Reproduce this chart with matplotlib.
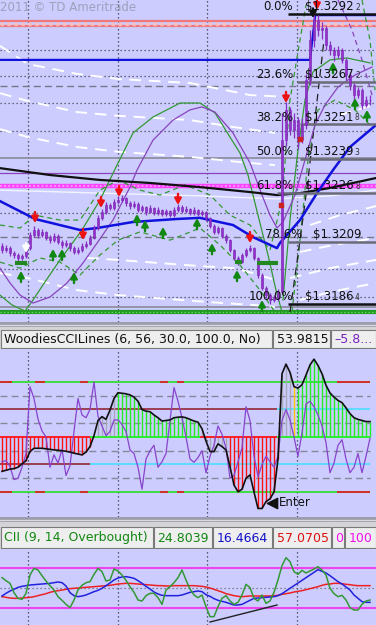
import matplotlib
matplotlib.use("Agg")
import matplotlib.pyplot as plt
from matplotlib.patches import Rectangle

W, H = 376, 625
BG = "#CCCCFF"

# ---------------- price panel (bar index 0..92) ----------------
closes = [1.32061, 1.32068, 1.32050, 1.32043, 1.32032, 1.32039, 1.32068, 1.32116, 1.32134, 1.32116,
          1.32127, 1.32105, 1.32097, 1.32112, 1.32090, 1.32079, 1.32086, 1.32068, 1.32054, 1.32061,
          1.32076, 1.32083, 1.32105, 1.32141, 1.32177, 1.32199, 1.32225, 1.32214, 1.32236, 1.32243,
          1.32250, 1.32232, 1.32221, 1.32228, 1.32207, 1.32218, 1.32199, 1.32214, 1.32196, 1.32207,
          1.32192, 1.32203, 1.32188, 1.32207, 1.32218, 1.32203, 1.32210, 1.32196, 1.32207, 1.32192,
          1.32199, 1.32177, 1.32148, 1.32127, 1.32141, 1.32112, 1.32097, 1.32061, 1.32032, 1.32017,
          1.32043, 1.32061, 1.32068, 1.32032, 1.31970, 1.31923, 1.31897, 1.31879, 1.31886, 1.31908,
          1.32461, 1.32571, 1.32498, 1.32534, 1.32461, 1.32516, 1.32680, 1.32825, 1.32898, 1.32862,
          1.32869, 1.32807, 1.32789, 1.32771, 1.32789, 1.32753, 1.32698, 1.32662, 1.32625, 1.32643,
          1.32589, 1.32607, 1.32607]
highs = [1.32085, 1.32078, 1.32075, 1.32058, 1.32050, 1.32048, 1.32080, 1.32128, 1.32150, 1.32140,
         1.32138, 1.32132, 1.32115, 1.32122, 1.32118, 1.32098, 1.32096, 1.32092, 1.32075, 1.32072,
         1.32088, 1.32094, 1.32115, 1.32152, 1.32190, 1.32210, 1.32236, 1.32232, 1.32245, 1.32256,
         1.32262, 1.32255, 1.32240, 1.32238, 1.32234, 1.32226, 1.32222, 1.32224, 1.32218, 1.32216,
         1.32212, 1.32212, 1.32208, 1.32216, 1.32230, 1.32224, 1.32220, 1.32215, 1.32216, 1.32212,
         1.32208, 1.32204, 1.32182, 1.32154, 1.32150, 1.32146, 1.32118, 1.32102, 1.32066, 1.32040,
         1.32050, 1.32070, 1.32080, 1.32072, 1.32036, 1.31976, 1.31930, 1.31904, 1.31896, 1.31920,
         1.32560, 1.32600, 1.32580, 1.32560, 1.32545, 1.32540, 1.32700, 1.32860, 1.32920, 1.32915,
         1.32890, 1.32875, 1.32820, 1.32800, 1.32805, 1.32795, 1.32760, 1.32710, 1.32670, 1.32655,
         1.32650, 1.32620, 1.32625]
lows = [1.32050, 1.32052, 1.32040, 1.32032, 1.32022, 1.32025, 1.32032, 1.32062, 1.32108, 1.32105,
        1.32108, 1.32096, 1.32085, 1.32090, 1.32082, 1.32068, 1.32072, 1.32058, 1.32045, 1.32046,
        1.32055, 1.32068, 1.32078, 1.32100, 1.32135, 1.32170, 1.32192, 1.32205, 1.32208, 1.32228,
        1.32235, 1.32222, 1.32212, 1.32214, 1.32198, 1.32200, 1.32190, 1.32194, 1.32187, 1.32190,
        1.32184, 1.32186, 1.32180, 1.32182, 1.32200, 1.32195, 1.32196, 1.32188, 1.32190, 1.32184,
        1.32186, 1.32168, 1.32140, 1.32118, 1.32120, 1.32104, 1.32088, 1.32052, 1.32024, 1.32008,
        1.32012, 1.32036, 1.32055, 1.32024, 1.31960, 1.31914, 1.31886, 1.31866, 1.31870, 1.31876,
        1.31900, 1.32440, 1.32480, 1.32470, 1.32430, 1.32450, 1.32500, 1.32660, 1.32800, 1.32840,
        1.32830, 1.32790, 1.32770, 1.32750, 1.32760, 1.32740, 1.32680, 1.32645, 1.32605, 1.32615,
        1.32575, 1.32580, 1.32590]
first_open = 1.32075
opens = [first_open] + closes[:-1]
bars = list(range(len(closes)))

# moving averages / overlay studies, as (bar, price) points
ma_blue_x = [-0.5, 8.25, 19.5, 23.75, 32.75, 43.75, 49.5, 57.75, 62.75, 68.75, 69.5, 74.5, 78.75, 82.75, 87, 93.5]
ma_blue_y = [1.32239, 1.32174, 1.32134, 1.32141, 1.32163, 1.32174, 1.32178, 1.32152, 1.32108, 1.32068,
             1.32087, 1.32170, 1.32268, 1.32352, 1.32436, 1.32516]
hh_blue_x = [-0.5, 77, 78.3, 93.5]
hh_blue_y = [1.32753, 1.32753, 1.32916, 1.32916]
ma_black_x = [-0.5, 12, 24.5, 37, 49.5, 62, 68.75, 74.5, 82, 93.5]
ma_black_y = [1.32359, 1.32334, 1.32316, 1.32305, 1.32290, 1.32272, 1.32261, 1.32268, 1.32287, 1.32323]
white_line_x = [-0.5, 24.5, 49.5, 68.75, 82, 93.5]
white_line_y = [1.32279, 1.32268, 1.32258, 1.32247, 1.32258, 1.32279]

white_dashes = [
    ([-0.5, 6.5, 18.75, 29.5, 47, 62, 71.5], [1.32804, 1.32738, 1.32702, 1.32683, 1.32669, 1.32625, 1.32618]),
    ([-0.5, 6.5, 18.75, 29.5, 47, 57.75, 68.25], [1.32632, 1.32603, 1.32563, 1.32549, 1.32534, 1.32509, 1.32487]),
    ([-0.5, 6.5, 18.75, 29.5, 47, 59.5, 68.25], [1.32501, 1.32472, 1.32436, 1.32418, 1.32400, 1.32381, 1.32370]),
    ([21.25, 29, 46.25, 57.75, 62.75, 68.25], [1.32032, 1.32025, 1.32006, 1.31995, 1.31977, 1.31952]),
    ([-0.5, 6.5, 18.75, 29, 51.25, 62.75, 68.25], [1.31977, 1.31959, 1.31915, 1.31897, 1.31872, 1.31861, 1.31854]),
    ([74.5, 82, 93.5], [1.31879, 1.31908, 1.31941]),
    ([72, 82, 93.5], [1.31959, 1.31995, 1.32025]),
    ([74.5, 82.75, 93.5], [1.32054, 1.32079, 1.32105]),
    ([77, 84.5, 93.5], [1.32152, 1.32188, 1.32221]),
    ([84.5, 93.5], [1.32552, 1.32592]),
]

green_arc_x = [-0.5, 2.5, 5.75, 7.75, 10.75, 14.5, 20, 24.5, 28.75, 32.75, 37.75, 44.5, 49.5, 53.25,
               57, 59.5, 61.5, 64, 66.5, 68.5, 70]
green_arc_y = [1.31897, 1.31861, 1.31839, 1.31879, 1.31945, 1.32025, 1.32134, 1.32243, 1.32370, 1.32487,
               1.32545, 1.32596, 1.32596, 1.32560, 1.32472, 1.32414, 1.32334, 1.32188, 1.32043, 1.31915,
               1.31835]
green_arc2_x = [70.25, 72, 74, 75.75, 77.75, 82, 86.25, 92]
green_arc2_y = [1.31879, 1.32170, 1.32425, 1.32607, 1.32709, 1.32753, 1.32760, 1.32742]
purple_arc_x = [-0.5, 2, 4.5, 7.75, 12, 16.25, 20.25, 23.75, 27.75, 32, 33.75, 37.75, 42.75, 47, 50,
                53.25, 57.75, 62, 65, 67, 68.75, 70.25, 73.25, 75.75, 78.25, 80.75, 84, 88.25, 92.5]
purple_arc_y = [1.31995, 1.31941, 1.31897, 1.31868, 1.31890, 1.31941, 1.32014, 1.32086, 1.32170, 1.32290,
                1.32352, 1.32461, 1.32534, 1.32571, 1.32582, 1.32563, 1.32487, 1.32378, 1.32261, 1.32188,
                1.32141, 1.32163, 1.32261, 1.32389, 1.32516, 1.32589, 1.32654, 1.32698, 1.32727]
purple_level = 1.32341

green_dashes = [
    ([-0.5, 4.5, 8.25, 14.5, 19.5, 24.5, 29, 34.5, 39.5, 45.75, 52, 57, 62, 67, 70, 72, 74.5, 76],
     [1.32152, 1.32141, 1.32188, 1.32170, 1.32170, 1.32279, 1.32316, 1.32279, 1.32261, 1.32298,
      1.32261, 1.32188, 1.32152, 1.32061, 1.32243, 1.32607, 1.32825, 1.32953]),
    ([-0.5, 4.5, 9.5, 14.5, 19.5, 24.5, 29, 34.5, 42, 49.5, 54.5, 59.5, 64.5, 68.25],
     [1.32017, 1.31995, 1.32032, 1.32017, 1.31970, 1.32043, 1.32097, 1.32127, 1.32097, 1.32141,
      1.32079, 1.32006, 1.31915, 1.31835]),
    ([72.5, 74.5, 76.5, 79, 83.25, 88.25, 92],
     [1.31835, 1.32097, 1.32389, 1.32571, 1.32607, 1.32571, 1.32516]),
    ([90, 92, 93.25], [1.32971, 1.32825, 1.32643]),
]
purple_dash_x = [84, 87.5, 90, 92.5]
purple_dash_y = [1.32971, 1.32862, 1.32753, 1.32625]
black_dash_x = [72, 74.5, 76.5, 78.5, 80.5]
black_dash_y = [1.31835, 1.32097, 1.32316, 1.32571, 1.32825]

grid_prices = [1.32789, 1.32694, 1.32596, 1.32494, 1.32196, 1.31992, 1.31890]
dashed_prices = [1.32658, 1.32108]
solid_grey_prices = [1.32396, 1.31854]
magenta_level = 1.32294
salmon_levels = [1.32893, 1.32875]
green_dot_level = 1.31835
time_grid = [6.5, 29, 51.25, 73.75]

support_x0 = [3.25, 58.25, 63.75]
support_x1 = [6.25, 60, 69]
support_y = [1.32014, 1.32017, 1.32014]

red_arrow_x = [8.25, 20.25, 24.75, 29.25, 44, 62, 71, 78.75]
red_arrow_y = [1.32159, 1.32097, 1.32214, 1.32254, 1.32225, 1.32086, 1.32596, 1.32935]
green_arrow_x = [4.75, 12.75, 15, 18, 33.75, 35.75, 40.25, 48.75, 52.5, 58.75, 65, 82.75, 88.25, 91.25]
green_arrow_y = [1.31985, 1.32065, 1.32065, 1.31981, 1.32192, 1.32170, 1.32145, 1.32177, 1.32086,
                 1.31988, 1.31879, 1.32745, 1.32614, 1.32571]
red_square_x = [74.5, 69.75]
red_square_y = [1.32465, 1.32225]

fib_pct = ["0.0%", "23.6%", "38.2%", "50.0%", "61.8%", "78.6%", "100.0%"]
fib_price = [1.3292, 1.32672, 1.32518, 1.32393, 1.32268, 1.3209, 1.31864]
fib_text = ["$1.3292", "$1.3267", "$1.3251", "$1.3239", "$1.3226", "$1.3209", "$1.3186"]
fib_tail = ["2", "2", "8", "3", "8", "", "4"]
fib_start = [71.5, 73.75, 74.5, 74.5, 68.75, 71.5, 71.5]

# ---------------- Woodies CCI panel ----------------
cci = [-125, -121, -117, -115, -110, -98, -86, -53, -41, -41,
       -41, -43, -45, -47, -48, -50, -52, -55, -59, -62,
       -65, -55, -35, 5, 60, 74, 64, 98, 140, 161,
       159, 157, 153, 145, 130, 100, 94, 92, 80, 70,
       58, 60, 62, 70, 72, 73, 70, 64, 58, 54,
       30, -15, -53, -53, -25, -35, -47, -108, -175, -199,
       -190, -150, -138, -200, -260, -260, -235, -225, -200, -80,
       230, 265, 235, 183, 178, 190, 225, 262, 283, 260,
       230, 188, 160, 145, 133, 125, 106, 85, 70, 64,
       60, 56, 56]
turbo = [-90, -86, -108, -155, -150, -110, -60, 183, 140, 65,
         22, 0, -110, -65, -95, -45, -140, -105, 20, 140,
         80, 70, 100, 200, 75, 40, 5, 20, 62, 62,
         45, 20, -47, -60, -110, -190, -80, -50, -30, -110,
         -90, -60, 60, 180, 130, 70, 0, -80, -92, -75,
         -50, -130, -70, -30, 40, 10, -40, -150, -140, -90,
         -40, 110, 60, -70, -145, -100, -70, -90, -110, -70,
         60, 100, 62, 0, -70, 15, 120, 130, 110, 80,
         40, -20, -130, -95, -30, -10, -80, -130, -110, -60,
         -130, -70, -5]
hist_state = "r" * 23 + "n" * 6 + "g" * 21 + "n" * 7 + "r" * 13 + "n" * 3 + "y" + "g" * 19
enter_bar, enter_val = 67.5, -240

# ---------------- CII panel ----------------
cii_green = [65.5, 61, 57, 43, 34.5, 33, 42, 69.5, 79.5, 77,
             68.5, 60.5, 53.5, 47, 37, 31.5, 25.5, 20.5, 32, 47,
             54, 58, 59.5, 70.5, 79.5, 74.5, 60.5, 62, 78.5, 75.5,
             69.5, 61.5, 52, 43.5, 32, 30.5, 38.5, 42, 42, 35.5,
             25.5, 47, 52, 58, 65.5, 77, 62, 48.5, 39.5, 35.5,
             39.5, 22, 7, 7, 22, 34.5, 38.5, 30.5, 25.5, 28.5,
             39.5, 55.5, 50.5, 34.5, 30.5, 39.5, 27, 30.5, 43.5, 62,
             83.5, 95.5, 89.5, 74.5, 70.5, 76.5, 72.5, 75.5, 78.5, 82,
             77, 69.5, 49.5, 41.5, 37, 39, 32, 20.5, 17, 17,
             25.5, 30.5, 32]
cii_blue = [38, 42, 45.5, 48, 51, 52.5, 53.5, 54.5, 55, 55.5,
            56, 56.5, 57, 58, 59, 58, 53, 43, 38.5, 37,
            38, 39.5, 42, 44.5, 46.5, 49.5, 53.5, 57.5, 62, 65,
            66.5, 67, 66, 64.5, 61, 57, 52.5, 48.5, 44, 41,
            39, 38.5, 38.5, 38.5, 38.5, 39.5, 41.5, 43.5, 44.5, 45.5,
            44.5, 40, 37.5, 34, 31.5, 30, 28.5, 26.5, 24.5, 24.5,
            25.5, 28.5, 31.5, 34.5, 35, 35.5, 36, 36.5, 37, 38.5,
            41.5, 45.5, 49.5, 53.5, 57.5, 61.5, 65.5, 69.5, 73.5, 77.5,
            75, 72.5, 68.5, 64, 59.5, 56, 51.5, 47, 39.5, 34.5,
            29.5, 28.5, 28.5]
cii_red = [37, 36, 35, 34.5, 34.5, 35, 35.5, 36, 37, 38.5,
           40, 41.5, 43.5, 45, 46, 47, 48, 49, 49.5, 50,
           50.5, 51, 51.5, 52, 52.5, 53, 53.5, 54, 55, 56,
           56.5, 57, 57, 56.5, 56, 55.5, 55, 54.5, 54, 53.5,
           53.5, 53, 53, 53.5, 53.5, 53.5, 53.5, 53.5, 53.5, 53,
           52.5, 51.5, 50, 48, 46, 44, 41.5, 40, 38.5, 37.5,
           37, 37.5, 38, 38, 38, 38, 38, 38, 38.5, 39,
           40.5, 41.5, 42.5, 44, 45, 46, 47.5, 49, 50.5, 52,
           54, 55.5, 56, 57, 57, 56.5, 55.5, 55, 54, 53.5,
           53.5, 53.5, 53.5]
cii_trend_x = [52, 68.75]
cii_trend_y = [-1, 24.5]

# ---------------- layout helpers (pixel rows) ----------------
fig = plt.figure(figsize=(W / 100, H / 100), dpi=100)
fig.patch.set_facecolor(BG)


def panel(top, bottom, color=BG):
    a = fig.add_axes([0, 1 - bottom / H, 1, (bottom - top) / H])
    a.set_facecolor(color)
    a.set_xticks([])
    a.set_yticks([])
    for s in a.spines.values():
        s.set_visible(False)
    return a


def time_lines(a):
    for x in time_grid:
        a.axvline(x, color="#333344", lw=0.9, ls=(0, (1, 2.2)), zorder=1)


DOT = (0, (1, 2.2))

# ---------------- price panel ----------------
ax = panel(0, 322)
ax.set_xlim(-0.5, 93.5)
ax.set_ylim(1.31799, 1.32971)
time_lines(ax)
for p in grid_prices:
    ax.axhline(p, color="#444455", lw=0.9, ls=DOT, zorder=1)
for p in dashed_prices:
    ax.axhline(p, color="#777788", lw=1.0, ls=(0, (5, 3)), zorder=1)
for p in solid_grey_prices:
    ax.axhline(p, color="#8A8A99", lw=1.2, zorder=1)

ax.axhline(salmon_levels[0], color="#EE7777", lw=1.6, zorder=2)
ax.axhline(salmon_levels[1], color="#EE7777", lw=1.6, zorder=2)
ax.axhline(sum(salmon_levels) / 2, color="#FFBBBB", lw=2.5, ls=(0, (1, 1)), zorder=2)
ax.axhline(magenta_level, color="#FF44FF", lw=3.2, zorder=2)
ax.axhline(magenta_level, color="#FFAAFF", lw=1.2, ls=(0, (1, 1.5)), zorder=2)
ax.axhline(green_dot_level, color="#229922", lw=3.0, zorder=2)
ax.axhline(green_dot_level, color="#66DD66", lw=1.0, ls=(0, (1, 1.5)), zorder=2)
ax.axhline(purple_level, color="#8844BB", lw=0.9, zorder=2)

for xs, ys in white_dashes:
    ax.plot(xs, ys, color="white", lw=1.4, ls=(0, (6, 4)), zorder=2)
ax.plot(white_line_x, white_line_y, color="#F4F4FF", lw=1.0, zorder=2)
for xs, ys in green_dashes:
    ax.plot(xs, ys, color="#339933", lw=0.9, ls=(0, (4, 3)), zorder=2)
ax.plot(purple_dash_x, purple_dash_y, color="#8844BB", lw=0.9, ls=(0, (4, 3)), zorder=2)
ax.plot(black_dash_x, black_dash_y, color="#222222", lw=0.9, ls=(0, (6, 4)), zorder=2)
ax.plot(green_arc_x, green_arc_y, color="#339933", lw=0.9, zorder=2)
ax.plot(green_arc2_x, green_arc2_y, color="#339933", lw=0.9, zorder=2)
ax.plot(purple_arc_x, purple_arc_y, color="#8844BB", lw=0.9, zorder=2)
ax.plot(ma_black_x, ma_black_y, color="#111111", lw=1.6, zorder=3)
ax.plot(hh_blue_x, hh_blue_y, color="#1111DD", lw=1.6, zorder=3)
ax.plot(ma_blue_x, ma_blue_y, color="#1111DD", lw=1.8, zorder=3)

for lv, x0 in zip(fib_price, fib_start):
    c = "#111111" if lv in (fib_price[0], fib_price[-1]) else "#6A6A78"
    ax.hlines(lv, x0, 93.5, color=c, lw=1.8, zorder=3)

# candles
ax.vlines(bars, lows, highs, color="#8A2FC4", lw=0.9, zorder=4)
bodies = [c - o for o, c in zip(opens, closes)]
ax.bar(bars, bodies, bottom=opens, width=0.6, color="#9233CC", edgecolor="#7A22B0", lw=0.4, zorder=4)

for x0, x1, y in zip(support_x0, support_x1, support_y):
    ax.hlines(y, x0, x1, color="#228822", lw=3, zorder=5)
ax.scatter(red_square_x, red_square_y, marker="s", s=10, color="#CC2222", zorder=5)

arrow_kw = dict(arrowstyle="-|>,head_width=0.22,head_length=0.4", lw=1.7, shrinkA=0, shrinkB=0, mutation_scale=9)
for x, y in zip(red_arrow_x, red_arrow_y):
    ax.annotate("", xy=(x, y), xytext=(0, 8), textcoords="offset points",
                arrowprops=dict(color="#EE1111", **arrow_kw), zorder=6)
for x, y in zip(green_arrow_x, green_arrow_y):
    ax.annotate("", xy=(x, y), xytext=(0, -8), textcoords="offset points",
                arrowprops=dict(color="#118811", **arrow_kw), zorder=6)
ax.annotate("", xy=(77.75, 1.32905), xytext=(0, 7), textcoords="offset points",
            arrowprops=dict(color="#111111", **arrow_kw), zorder=6)
ax.annotate("", xy=(6, 1.32050), xytext=(0, 7), textcoords="offset points",
            arrowprops=dict(color="white", **arrow_kw), zorder=6)

ax.text(-0.4, 1.32945, "2011 \u00a9 TD Ameritrade", color="#A0A0BC", fontsize=8.5, va="center", ha="left")

for i, (pct, lv, txt, tail) in enumerate(zip(fib_pct, fib_price, fib_text, fib_tail)):
    shift = 2.25 if pct == "78.6%" else 0
    ax.annotate(pct, xy=(72.75 + shift, lv), xytext=(0, 0.5), textcoords="offset points",
                ha="right", va="bottom", fontsize=8.5, color="#111111", zorder=7)
    t = ax.annotate(txt, xy=(75.75 + (2 if shift else 0), lv), xytext=(0, 0.5), textcoords="offset points",
                    ha="left", va="bottom", fontsize=8.5, color="#111111", zorder=7)
    if tail:
        ax.annotate(tail, xy=(1, 0.1), xycoords=t, xytext=(1, 0), textcoords="offset points",
                    ha="left", va="bottom", fontsize=5.5, color="#333333", zorder=7)

# ---------------- separators and headers ----------------
def separator(top, bottom):
    s = panel(top, bottom, "#9C9CAA")
    s.set_xlim(0, W)
    s.set_ylim(bottom - top, 0)
    s.axhline((bottom - top) / 2, color="#D8D8E0", lw=1)


def header(top, bottom, btop, bbot, boxes):
    h = panel(top, bottom, "#D4D4D8")
    h.set_xlim(0, W)
    h.set_ylim(bottom - top, 0)
    for x0, x1, txt, col in boxes:
        h.add_patch(Rectangle((x0, btop - top), x1 - x0, bbot - btop, facecolor="#EEEEEE",
                              edgecolor="#7A7A7A", lw=0.8))
        h.text(x0 + 3.5, (btop + bbot) / 2 - top + 0.5, txt, color=col, fontsize=9, va="center", ha="left")


separator(322, 327)
header(327, 349, 330, 348,
       [(0.5, 272, "WoodiesCCILines (6, 56, 30.0, 100.0, No)", "#111111"),
        (273, 330, "53.9815", "#111111"),
        (331, 375.5, "\u20135.8...", "#7722BB")])

# ---------------- CCI panel ----------------
cx = panel(349, 517)
cx.set_xlim(-0.5, 93.5)
cx.set_ylim(-291, 320)
time_lines(cx)
for lv in (150, 50, -50, -150):
    cx.hlines(lv, -0.5, 92, color="#888899", lw=1.0, ls=(0, (5, 3)), zorder=1)
for lv in (200, -200):
    cx.hlines(lv, -0.5, 92, color="#33DD33", lw=1.3, zorder=2)
    for x0, x1 in [(-0.5, 2.5), (8.25, 10.75), (19.5, 21.5), (39.5, 41.5), (43.75, 45.5), (83.75, 92)]:
        cx.hlines(lv, x0, x1, color="#DD2222", lw=1.3, zorder=2)
cx.hlines(100, -0.5, 68.75, color="#993344", lw=1.3, zorder=2)
cx.hlines(100, 68.75, 92, color="#55DDFF", lw=1.3, zorder=2)
cx.hlines(-100, -0.5, 22, color="#993344", lw=1.3, zorder=2)
cx.hlines(-100, 22, 92, color="#55DDFF", lw=1.3, zorder=2)

hist_colors = {"r": "#FF1111", "g": "#22EE22", "n": "#A8A8B8", "y": "#FFCC00"}
cx.vlines(bars, 0, cci, colors=[hist_colors[s] for s in hist_state], lw=1.0, zorder=3)
for x0, x1, col in [(-0.5, 22, "#FF1111"), (22, 49.5, "#22EE22"), (49.5, 68.75, "#FF1111"), (68.75, 92, "#22EE22")]:
    cx.hlines(0, x0, x1, color=col, lw=1.3, zorder=3)
cx.plot(bars, turbo, color="#8844CC", lw=0.9, zorder=4)
cx.plot(bars, cci, color="#111111", lw=1.2, zorder=5)
cx.scatter([enter_bar], [enter_val], marker="<", s=55, color="#111111", zorder=6)
cx.text(enter_bar + 1.6, enter_val, "Enter", fontsize=8.5, color="#111111", va="center", ha="left", zorder=6)

separator(517, 522)
header(522, 549, 527, 548,
       [(0.5, 153, "CII (9, 14, Overbought)", "#118811"),
        (154, 212, "24.8039", "#118811"),
        (213, 272, "16.4664", "#1111CC"),
        (273, 331, "57.0705", "#DD1111"),
        (332, 344, "0", "#EE11EE"),
        (345, 375.5, "100", "#EE11EE")])

# ---------------- CII panel ----------------
ix = panel(549, 625)
ix.set_xlim(-0.5, 93.5)
ix.set_ylim(-5.5, 108.5)
time_lines(ix)
ix.axhline(50, color="#666677", lw=0.9, ls=DOT, zorder=1)
ix.axhline(80, color="#EE44EE", lw=1.5, zorder=2)
ix.axhline(20, color="#EE44EE", lw=1.5, zorder=2)
ix.plot(bars, cii_red, color="#EE2222", lw=1.1, zorder=3)
ix.plot(bars, cii_blue, color="#2222DD", lw=1.1, zorder=3)
ix.plot(bars, cii_green, color="#339933", lw=1.1, zorder=4)
ix.plot(cii_trend_x, cii_trend_y, color="#222222", lw=1.0, zorder=4)

fig.savefig("out.png", dpi=100, facecolor=BG)
